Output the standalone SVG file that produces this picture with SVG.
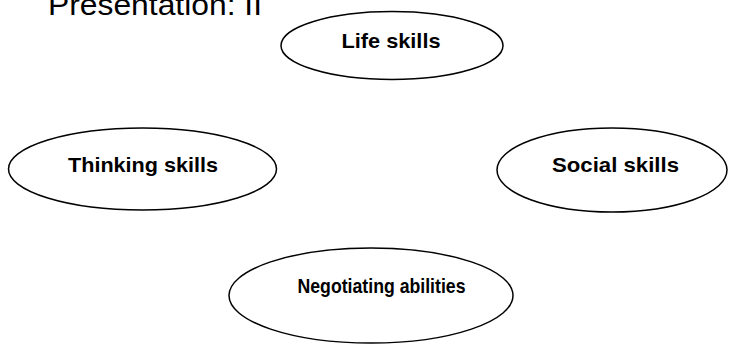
<svg xmlns="http://www.w3.org/2000/svg" width="729" height="346" viewBox="0 0 729 346">
<style>
.n{fill:#fff;stroke:#000;stroke-width:1.5}
.l{font-family:"Liberation Sans",Arial,sans-serif;font-weight:bold;font-size:21px;fill:#000;text-anchor:middle}
.t{font-family:"Liberation Sans",Arial,sans-serif;font-size:30px;fill:#000}
</style>
<rect width="729" height="346" fill="#fff"/>
<text class="t" x="48" y="15" textLength="214" lengthAdjust="spacingAndGlyphs">Presentation: II</text>
<g id="connectors"></g>
<g id="life"><ellipse class="n" cx="392" cy="45.5" rx="111" ry="34"/><text class="l" x="391" y="48" textLength="99" lengthAdjust="spacingAndGlyphs">Life skills</text></g>
<g id="thinking"><ellipse class="n" cx="142.5" cy="169" rx="134" ry="41"/><text class="l" x="143" y="172" textLength="150" lengthAdjust="spacingAndGlyphs">Thinking skills</text></g>
<g id="social"><ellipse class="n" cx="612" cy="170" rx="115" ry="42"/><text class="l" x="615.5" y="172" textLength="127" lengthAdjust="spacingAndGlyphs">Social skills</text></g>
<g id="negotiating"><ellipse class="n" cx="371" cy="295.5" rx="142" ry="47.5"/><text class="l" x="381.5" y="293" textLength="168" lengthAdjust="spacingAndGlyphs">Negotiating abilities</text></g>
</svg>
